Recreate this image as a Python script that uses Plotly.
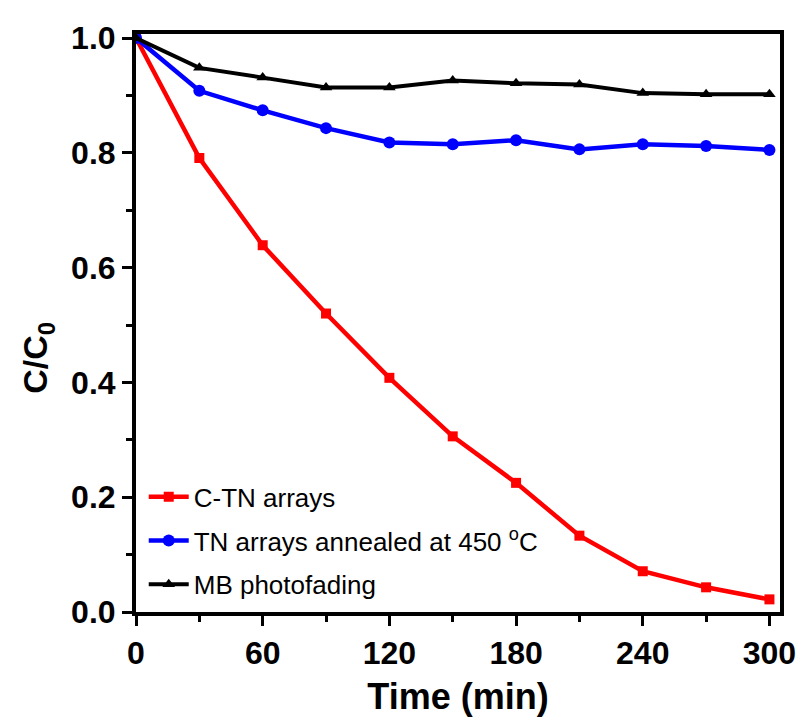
import plotly.graph_objects as go

time_min = [0, 30, 60, 90, 120, 150, 180, 210, 240, 270, 300]
ctn_arrays = [1.0, 0.791, 0.639, 0.520, 0.408, 0.306, 0.225, 0.133, 0.071, 0.043, 0.022]
tn_annealed = [1.0, 0.908, 0.874, 0.843, 0.818, 0.815, 0.822, 0.806, 0.815, 0.812, 0.805]
mb_photofading = [1.0, 0.948, 0.931, 0.914, 0.914, 0.926, 0.921, 0.919, 0.904, 0.902, 0.902]

series_names = ["C-TN arrays", "TN arrays annealed at 450 <sup>o</sup>C", "MB photofading"]
x_ticks = [0, 60, 120, 180, 240, 300]
y_ticks = [0.0, 0.2, 0.4, 0.6, 0.8, 1.0]

FONT = "Liberation Sans, Arial, sans-serif"

fig = go.Figure()
fig.add_trace(go.Scatter(x=time_min, y=ctn_arrays, name=series_names[0], mode="lines+markers",
                         line=dict(color="#ff0000", width=4.5),
                         marker=dict(symbol="square", size=10, color="#ff0000"),
                         legendgroup="a"))
fig.add_trace(go.Scatter(x=time_min, y=tn_annealed, name=series_names[1], mode="lines+markers",
                         line=dict(color="#0000ff", width=4.5),
                         marker=dict(symbol="circle", size=12, color="#0000ff"),
                         legendgroup="b"))
fig.add_trace(go.Scatter(x=time_min, y=mb_photofading, name=series_names[2], mode="lines+markers",
                         line=dict(color="#000000", width=4),
                         marker=dict(symbol="triangle-up", size=11, color="#000000"),
                         legendgroup="c"))

axis_common = dict(showline=True, linecolor="black", linewidth=4, mirror=True,
                   ticks="outside", ticklen=10, tickwidth=3, tickcolor="black",
                   showgrid=False, zeroline=False,
                   tickfont=dict(family=FONT, size=32, color="black", weight="bold"))

fig.update_layout(
    width=804, height=725,
    paper_bgcolor="white", plot_bgcolor="white",
    margin=dict(l=128, r=32, t=21, b=121),
    xaxis=dict(range=[0, 305], tickvals=x_ticks, ticktext=[str(v) for v in x_ticks],
               minor=dict(dtick=30, tick0=0, ticks="outside", ticklen=6, tickwidth=3, tickcolor="black"),
               title=dict(text="Time (min)", font=dict(family=FONT, size=36, color="black", weight="bold"), standoff=14),
               **axis_common),
    yaxis=dict(range=[0, 1.007], tickvals=y_ticks, ticktext=[f"{v:.1f}" for v in y_ticks],
               minor=dict(dtick=0.1, tick0=0, ticks="outside", ticklen=6, tickwidth=3, tickcolor="black"),
               **axis_common),
    annotations=[dict(text="C/C<sub>0</sub>", xref="paper", yref="paper", x=-0.152, y=0.44,
                      xanchor="center", yanchor="middle", textangle=-90, showarrow=False,
                      font=dict(family=FONT, size=34, color="black", weight="bold"))],
    legend=dict(x=0.012, y=0.24, xanchor="left", yanchor="top",
                bgcolor="rgba(0,0,0,0)", borderwidth=0,
                font=dict(family=FONT, size=26, color="black"),
                tracegroupgap=7, itemwidth=40),
)

fig.write_html("out.html")
